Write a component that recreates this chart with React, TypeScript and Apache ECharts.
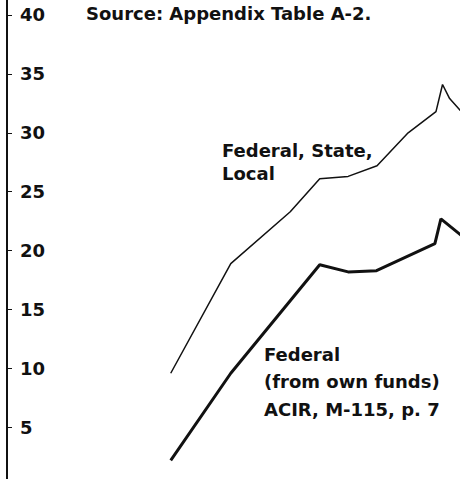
import React, { useEffect, useRef } from "react";
import * as echarts from "echarts";

const totalYears = [1902, 1913, 1923.9, 1929.3, 1934.5, 1939.8, 1945.5, 1950.6, 1951.8, 1953.1, 1956];
const totalValues = [9.6, 18.9, 23.3, 26.1, 26.3, 27.2, 30.0, 31.8, 34.1, 32.9, 31.4];
const federalYears = [1902, 1913, 1929.3, 1934.5, 1939.7, 1950.4, 1951.5, 1956];
const federalValues = [2.2, 9.6, 18.8, 18.2, 18.3, 20.6, 22.7, 21.0];
const shownTicks = [5, 10, 15, 20, 25, 30, 35, 40];

const FONT = "DejaVu Sans";

export default function App() {
  const ref = useRef<HTMLDivElement>(null);
  useEffect(() => {
    if (!ref.current) return;
    const chart = echarts.init(ref.current, null, { renderer: "svg" });
    const txt = (x: number, y: number, text: string) => ({
      type: "text",
      x,
      y,
      style: {
        text,
        fill: "#111",
        font: `bold 18px "${FONT}"`,
        align: "left",
        verticalAlign: "middle",
      },
    });
    chart.setOption({
      animation: false,
      backgroundColor: "#fff",
      grid: {
        left: 7,
        right: 0,
        top: -44,
        bottom: -7.4,
        containLabel: false,
        outerBoundsMode: "none",
      },
      xAxis: { type: "value", min: 1872, max: 1955, show: false },
      yAxis: {
        type: "value",
        min: 0,
        max: 45,
        interval: 5,
        axisLine: { show: true, lineStyle: { color: "#111", width: 2 } },
        axisTick: { show: true, inside: true, length: 5, lineStyle: { color: "#111", width: 1 } },
        axisLabel: {
          inside: true,
          margin: 13,
          color: "#111",
          fontFamily: FONT,
          fontWeight: "bold",
          fontSize: 18,
          formatter: (v: number) => (shownTicks.includes(v) ? String(v) : ""),
        },
        splitLine: { show: false },
      },
      series: [
        {
          type: "line",
          data: totalYears.map((y, i) => [y, totalValues[i]]),
          showSymbol: false,
          lineStyle: { color: "#111", width: 1.5 },
          clip: true,
        },
        {
          type: "line",
          data: federalYears.map((y, i) => [y, federalValues[i]]),
          showSymbol: false,
          lineStyle: { color: "#111", width: 3 },
          clip: true,
        },
      ],
      graphic: [
        txt(86, 13, "Source: Appendix Table A-2."),
        txt(222, 150, "Federal, State,"),
        txt(222, 173.5, "Local"),
        txt(264, 354, "Federal"),
        txt(264, 381, "(from own funds)"),
        txt(264, 409, "ACIR, M-115, p. 7"),
      ],
    });
    return () => chart.dispose();
  }, []);
  return <div ref={ref} style={{ width: 460, height: 479, position: "fixed", left: 0, top: 0 }} />;
}
